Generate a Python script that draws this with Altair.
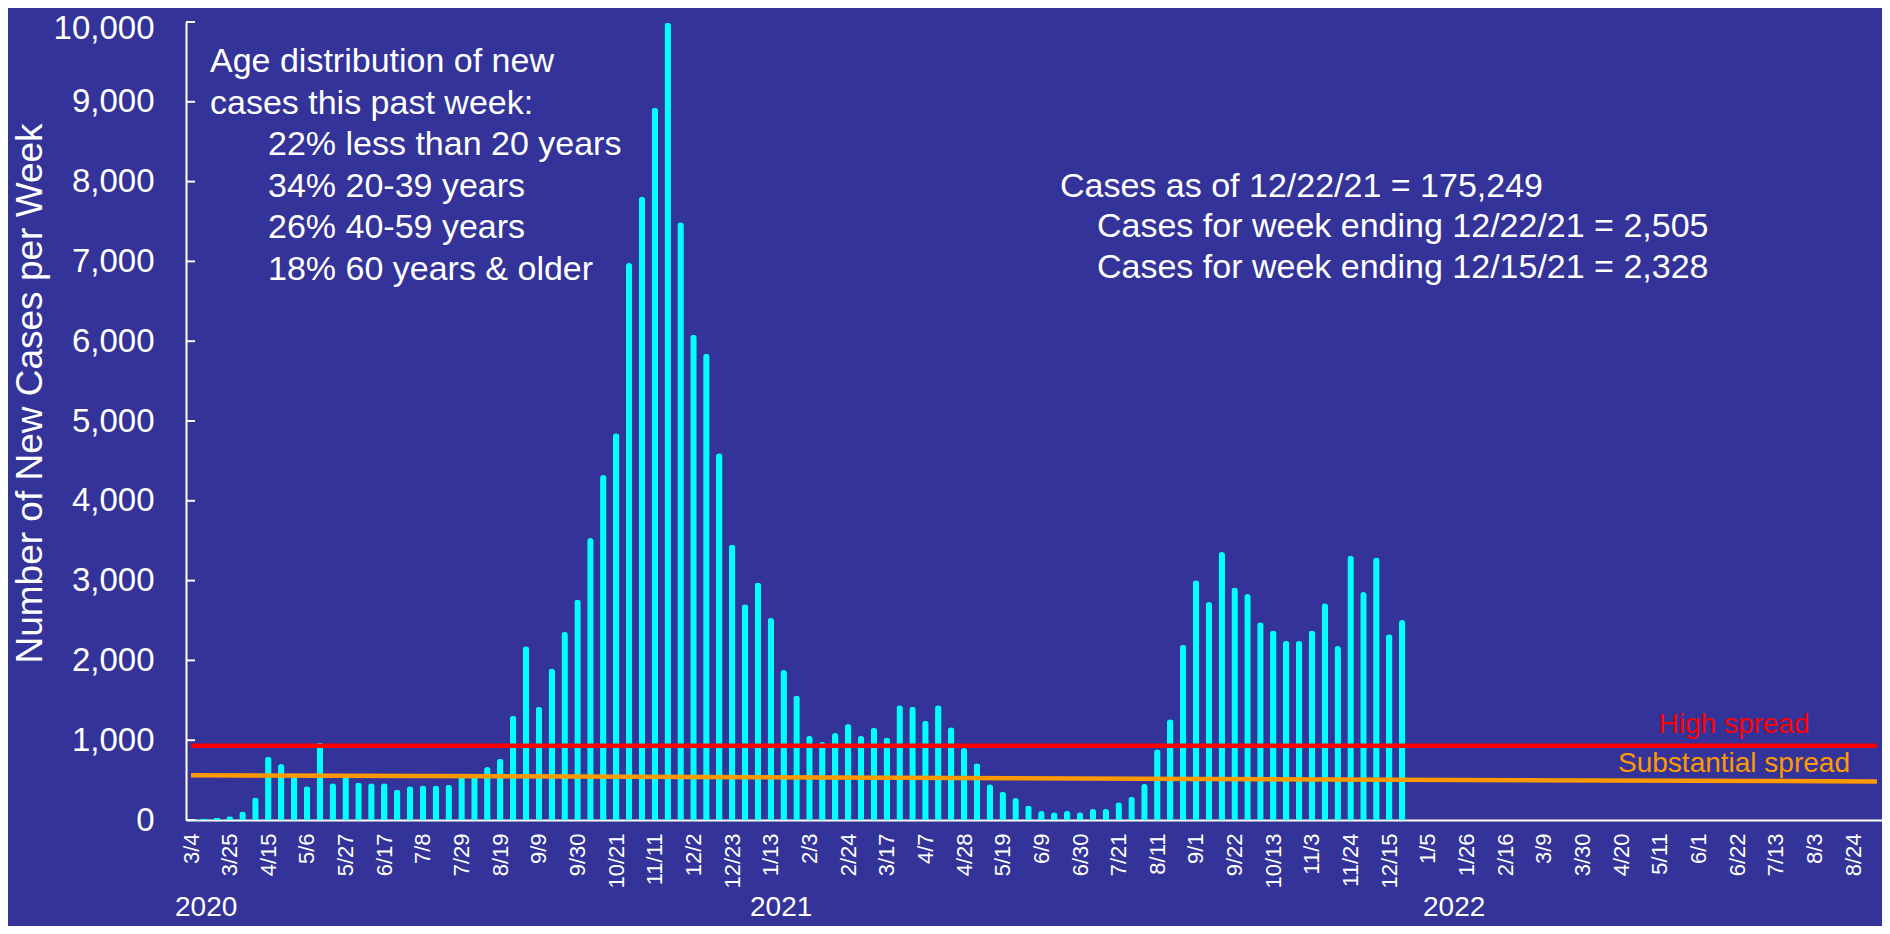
import altair as alt
import pandas as pd

# ---------------- data ----------------
first_week = "2020-03-04"
weekly_cases = [
    0, 20, 25, 46, 105, 281, 794, 701, 540, 424,
    970, 462, 545, 470, 462, 462, 382, 424, 433, 433,
    441, 584, 555, 664, 769, 1306, 2176, 1420, 1899, 2357,
    2762, 3533, 4323, 4847, 6979, 7809, 8924, 9990, 7490, 6082,
    5843, 4595, 3453, 2703, 2975, 2530, 1879, 1560, 1054, 977,
    1090, 1203, 1053, 1157, 1034, 1437, 1420, 1244, 1437, 1162,
    902, 710, 447, 355, 275, 183, 113, 96, 113, 96,
    138, 138, 222, 290, 450, 886, 1263, 2197, 3004, 2731,
    3357, 2912, 2832, 2479, 2374, 2244, 2244, 2374, 2715, 2180,
    3310, 2857, 3290, 2328, 2505,
]
axis_end = "2022-09-06"
tick_count = 44            # one label every 3 weeks, 3/4/2020 .. 8/24/2022
y_ticks = [0, 1000, 2000, 3000, 4000, 5000, 6000, 7000, 8000, 9000, 10000]

high_spread = [930, 930]
substantial_spread = [562, 483]

age_header = ["Age distribution of new", "cases this past week:"]
age_lines = ["22% less than 20 years", "34% 20-39 years", "26% 40-59 years", "18% 60 years & older"]
totals_header = ["Cases as of 12/22/21 = 175,249"]
totals_lines = ["Cases for week ending 12/22/21 = 2,505", "Cases for week ending 12/15/21 = 2,328"]
years = ["2020", "2021", "2022"]

# ---------------- tables ----------------
week_dates = pd.date_range(first_week, periods=len(weekly_cases), freq="7D")
bars_df = pd.DataFrame({"week": week_dates.strftime("%Y-%m-%d"), "cases": weekly_cases})

tick_dates = pd.date_range(first_week, periods=tick_count, freq="21D")
tick_values = [alt.DateTime(year=d.year, month=d.month, date=d.day, utc=True) for d in tick_dates]

ends = [first_week, axis_end]
high_df = pd.DataFrame({"week": ends, "cases": high_spread})
sub_df = pd.DataFrame({"week": ends, "cases": substantial_spread})
yt_df = pd.DataFrame({"cases": y_ticks})
one = pd.DataFrame({"k": [0]})

FONT = "Liberation Sans"
WHITE = "#FFFFFF"
BG = "#333399"

s = pd.Timestamp(first_week)
e = pd.Timestamp(axis_end)
x_scale = alt.Scale(
    type="utc",
    domain=[alt.DateTime(year=s.year, month=s.month, date=s.day, utc=True),
            alt.DateTime(year=e.year, month=e.month, date=e.day, utc=True)],
)
y_scale = alt.Scale(domain=[0, 10000], nice=False)

x_axis = alt.Axis(
    values=tick_values, labelExpr="utcFormat(datum.value, '%-m/%-d')", labelAngle=270,
    labelFontSize=22, labelFont=FONT, labelColor=WHITE, labelPadding=13,
    ticks=False, domainColor=WHITE, domainWidth=2, grid=False, title=None,
    labelOverlap=False, labelFlush=False,
)
y_axis = alt.Axis(
    values=y_ticks, format=",.0f", labelFontSize=33, labelFont=FONT, labelColor=WHITE,
    labelPadding=32, ticks=False, domainColor=WHITE, domainWidth=2, grid=False,
    labelOffset={"condition": {"test": "datum.value >= 10000", "value": 6}, "value": 0},
    title="Number of New Cases per Week", titleFont=FONT, titleFontSize=37,
    titleFontWeight="normal", titleColor=WHITE, titleX=-145, titleY=371,
    titleBaseline="alphabetic", titleAngle=270, labelFlush=False,
)

bars = alt.Chart(bars_df).mark_bar(
    color="#00FFFF", width=6.5, cornerRadiusTopLeft=3, cornerRadiusTopRight=3
).encode(
    x=alt.X("week:T", scale=x_scale, axis=x_axis),
    y=alt.Y("cases:Q", scale=y_scale, axis=y_axis),
)

Xn = alt.X("week:T", scale=x_scale, axis=None)
Yn = alt.Y("cases:Q", scale=y_scale, axis=None)

ytick_rules = alt.Chart(yt_df).mark_rule(color=WHITE, strokeWidth=2).encode(
    y=Yn, x=alt.value(0), x2=alt.value(9)
)

high_line = alt.Chart(high_df).mark_line(color="#FF0000", strokeWidth=4.5).encode(x=Xn, y=Yn)
sub_line = alt.Chart(sub_df).mark_line(color="#FF9900", strokeWidth=4.5).encode(x=Xn, y=Yn)


def txt(lines, x, y, size=34, color=WHITE, align="left", lh=41.5):
    return alt.Chart(one).mark_text(
        text=lines, align=align, baseline="alphabetic", font=FONT, fontSize=size,
        color=color, lineHeight=lh,
    ).encode(x=alt.value(x), y=alt.value(y))


layers = [
    bars, ytick_rules, sub_line, high_line,
    txt(age_header, 24, 50),
    txt(age_lines, 82, 133),
    txt(totals_header, 874, 175),
    txt(totals_lines, 911, 215, lh=41),
    txt(["High spread"], 1548, 711, size=28, color="#FF0000", align="center"),
    txt(["Substantial spread"], 1548, 750, size=28, color="#FF9900", align="center"),
    txt([years[0]], -11, 894, size=28),
    txt([years[1]], 564, 894, size=28),
    txt([years[2]], 1237, 894, size=28),
]

chart = alt.layer(*layers).resolve_axis(x="independent", y="independent").properties(
    width=1696, height=798,
    autosize=alt.AutoSizeParams(type="none"),
    padding={"left": 178, "top": 14, "right": 0, "bottom": 106},
    background=BG,
).configure_view(stroke=None)

chart.save("out.html", embed_options={"renderer": "svg", "actions": False})
